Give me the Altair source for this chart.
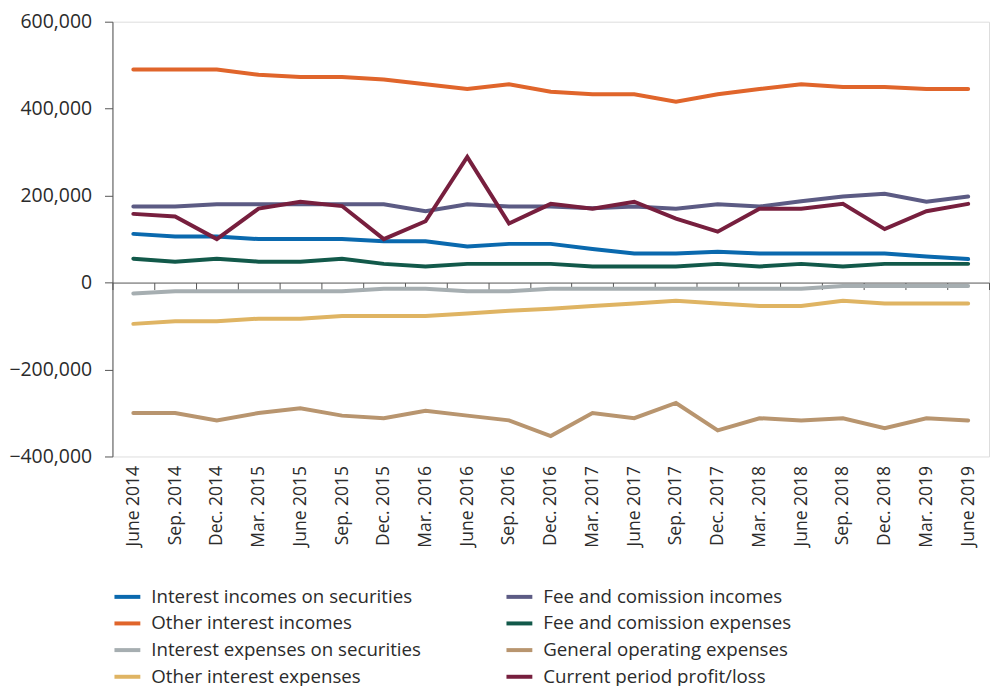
import altair as alt
import pandas as pd

periods = ["June 2014", "Sep. 2014", "Dec. 2014", "Mar. 2015", "June 2015", "Sep. 2015",
           "Dec. 2015", "Mar. 2016", "June 2016", "Sep. 2016", "Dec. 2016", "Mar. 2017",
           "June 2017", "Sep. 2017", "Dec. 2017", "Mar. 2018", "June 2018", "Sep. 2018",
           "Dec. 2018", "Mar. 2019", "June 2019"]

interest_incomes_securities = [112000, 106000, 106000, 100000, 100000, 100000, 95000, 95000, 83000, 89000,
                               89000, 77000, 67000, 67000, 71000, 67000, 67000, 67000, 67000, 60000, 54000]
other_interest_incomes = [490000, 490000, 490000, 478000, 473000, 473000, 467000, 456000, 445000, 456000,
                          439000, 433000, 433000, 416000, 433000, 445000, 456000, 450000, 450000, 445000, 445000]
interest_expenses_securities = [-25000, -20000, -20000, -20000, -20000, -20000, -14000, -14000, -20000, -20000,
                                -14000, -14000, -14000, -14000, -14000, -14000, -14000, -8000, -8000, -8000, -8000]
other_interest_expenses = [-95000, -89000, -89000, -83000, -83000, -77000, -77000, -77000, -71000, -65000,
                           -60000, -54000, -48000, -42000, -48000, -54000, -54000, -42000, -48000, -48000, -48000]
fee_comission_incomes = [175000, 175000, 180000, 180000, 180000, 180000, 180000, 164000, 180000, 175000,
                         175000, 171000, 175000, 170000, 180000, 175000, 187000, 198000, 204000, 186000, 198000]
fee_comission_expenses = [55000, 48000, 55000, 48000, 48000, 55000, 43000, 37000, 43000, 43000,
                          43000, 37000, 37000, 37000, 43000, 37000, 43000, 37000, 43000, 43000, 43000]
general_operating_expenses = [-300000, -300000, -317000, -300000, -289000, -306000, -312000, -295000, -306000, -317000,
                              -353000, -300000, -312000, -277000, -340000, -312000, -317000, -312000, -335000, -312000, -317000]
current_profit_loss = [158000, 152000, 100000, 170000, 186000, 176000, 100000, 141000, 289000, 136000,
                       181000, 170000, 186000, 147000, 117000, 170000, 170000, 181000, 123000, 164000, 181000]

# legend order (column-major: left column first, then right column)
series_names = ["Interest incomes on securities", "Other interest incomes",
                "Interest expenses on securities", "Other interest expenses",
                "Fee and comission incomes", "Fee and comission expenses",
                "General operating expenses", "Current period profit/loss"]
series_values = [interest_incomes_securities, other_interest_incomes,
                 interest_expenses_securities, other_interest_expenses,
                 fee_comission_incomes, fee_comission_expenses,
                 general_operating_expenses, current_profit_loss]
series_colors = ["#0a69ae", "#e0652b", "#a6aeb1", "#dfb463",
                 "#5c5b84", "#12594a", "#b8956f", "#771f3e"]

rows = []
for name, vals in zip(series_names, series_values):
    for p, v in zip(periods, vals):
        rows.append({"period": p, "value": v, "series": name})
df = pd.DataFrame(rows)

H = 437
zero_off = H * 400000 / 1000000
FS = 18.8

chart = alt.Chart(df).mark_line(strokeWidth=4, strokeCap="round").encode(
    x=alt.X("period:N", sort=periods,
            scale=alt.Scale(type="band", paddingInner=0, paddingOuter=0),
            axis=alt.Axis(title=None, labelAngle=-90, tickBand="extent", offset=-zero_off,
                          tickSize=7, labelPadding=zero_off - 7 + 9, labelFontSize=17.6,
                          labelColor="#2b2b2b", domainColor="#555555", tickColor="#555555",
                          labelBound=False)),
    y=alt.Y("value:Q", scale=alt.Scale(domain=[-400000, 600000], nice=False),
            axis=alt.Axis(title=None, values=[-400000, -200000, 0, 200000, 400000, 600000],
                          format=",.0f", tickSize=8, labelPadding=13, labelFontSize=19.5,
                          labelColor="#2b2b2b", domainColor="#555555", tickColor="#555555",
                          grid=False)),
    color=alt.Color("series:N",
                    scale=alt.Scale(domain=series_names, range=series_colors),
                    legend=alt.Legend(orient="none", legendX=0, legendY=563, columns=2,
                                      title=None, symbolType="stroke", symbolStrokeWidth=4,
                                      symbolSize=676, labelFontSize=FS, labelOffset=9,
                                      rowPadding=1.8, columnPadding=77, labelLimit=500,
                                      padding=0, labelColor="#2b2b2b")),
    order=alt.Order("series:N"),
).properties(
    width=881, height=H,
    autosize=alt.AutoSizeParams(type="none"),
    padding={"left": 105, "top": 12, "right": 3, "bottom": 245},
).configure_view(stroke=None).configure(font="Open Sans")

chart.save("out.html", embed_options={"renderer": "svg", "actions": False})
